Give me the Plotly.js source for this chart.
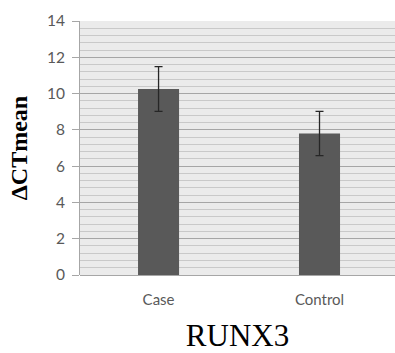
<!DOCTYPE html>
<html>
<head>
<meta charset="utf-8">
<script src="https://cdn.plot.ly/plotly-3.0.1.min.js"></script>
<style>html,body{margin:0;padding:0;background:#fff;}#chart{width:395px;height:353px;}</style>
</head>
<body>
<div id="chart"></div>
<script>
const categories = ["Case", "Control"];
const meanValues = [10.25, 7.8];
const errorValues = [1.23, 1.22];
const yTickValues = [0, 2, 4, 6, 8, 10, 12, 14];

const trace = {
  type: "bar",
  x: categories,
  y: meanValues,
  width: 0.255,
  marker: {color: "#595959", line: {width: 0}},
  error_y: {type: "data", array: errorValues, visible: true, color: "#262626", thickness: 1.3, width: 4},
  hoverinfo: "none"
};

const layout = {
  width: 395, height: 353,
  margin: {l: 80, r: 0, t: 21, b: 78},
  paper_bgcolor: "#ffffff",
  plot_bgcolor: "#ebebeb",
  showlegend: false,
  xaxis: {
    type: "category",
    range: [-0.488, 1.469],
    showgrid: false, zeroline: false,
    showline: false,
    ticks: "",
    tickfont: {family: "Lato, 'Open Sans', sans-serif", size: 15, color: "#595959"},
    ticklabelstandoff: 14,
    automargin: false,
    title: {text: "RUNX3", font: {family: "'Liberation Serif', 'Times New Roman', serif", size: 31, color: "#000"}, standoff: 18}
  },
  yaxis: {
    range: [0, 14],
    tickvals: yTickValues,
    showgrid: true, gridcolor: "#a6a6a6", gridwidth: 1,
    zeroline: true, zerolinecolor: "#a6a6a6", zerolinewidth: 1,
    showline: true, linecolor: "#a6a6a6", linewidth: 1,
    ticks: "outside", ticklen: 7, tickcolor: "#a6a6a6",
    tickfont: {family: "Lato, 'Open Sans', sans-serif", size: 15.5, color: "#595959"},
    ticklabelstandoff: 4,
    minor: {dtick: 0.4, showgrid: true, gridcolor: "#c9c9c9", gridwidth: 1, ticks: ""},
    automargin: true,
    title: {text: "ΔCTmean", standoff: 12, font: {family: "'Liberation Serif', 'Times New Roman', serif", size: 24, color: "#000", weight: "bold"}}
  }
};

Plotly.newPlot("chart", [trace], layout, {displayModeBar: false, staticPlot: true});
</script>
</body>
</html>
